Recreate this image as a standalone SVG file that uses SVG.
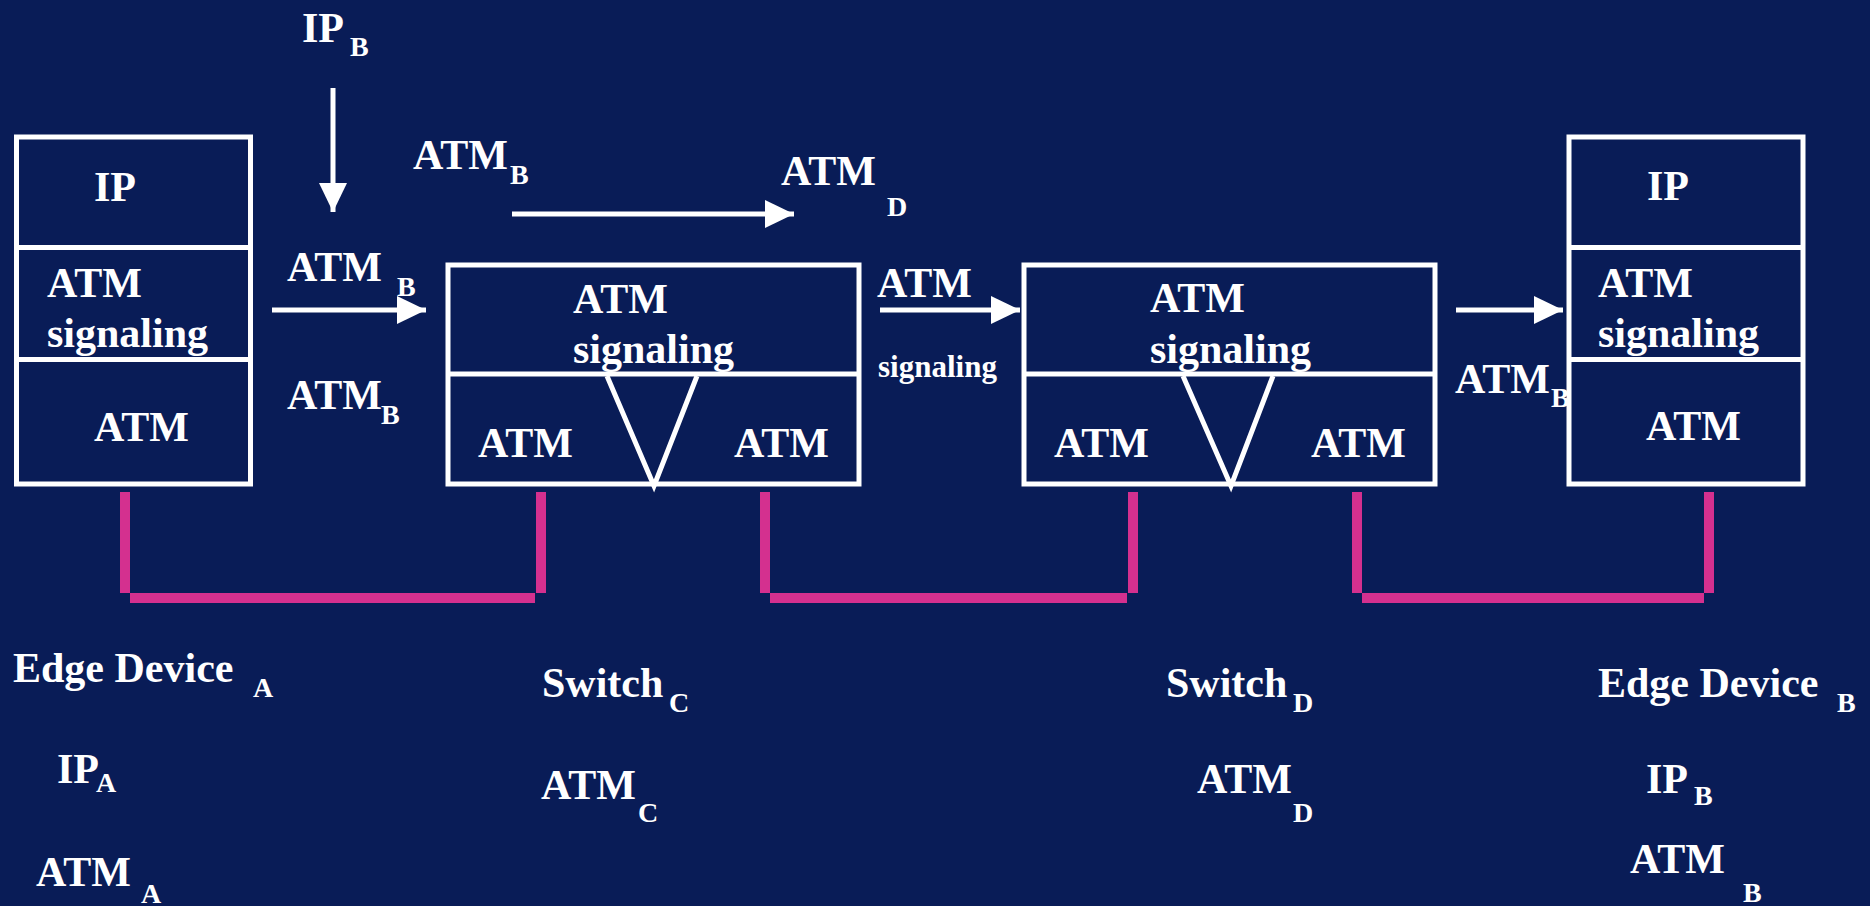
<svg xmlns="http://www.w3.org/2000/svg" width="1870" height="906" viewBox="0 0 1870 906">
<defs>
<marker id="ah" markerUnits="userSpaceOnUse" markerWidth="29" markerHeight="28" refX="29" refY="14" orient="auto">
<path d="M0,0 L29,14 L0,28 z" fill="#fff"/>
</marker>
</defs>
<rect width="1870" height="906" fill="#091c57"/>

<g id="edge-a">
<g fill="none" stroke="#fff" stroke-width="5">
<rect x="16.5" y="137" width="234" height="347"/>
<line x1="16.5" y1="247.5" x2="250.5" y2="247.5"/>
<line x1="16.5" y1="359.5" x2="250.5" y2="359.5"/>
</g>
<g font-family="Liberation Serif" font-weight="bold" font-size="42" fill="#fff">
<text x="94" y="201">IP</text>
<text x="47" y="297">ATM</text>
<text x="47" y="347">signaling</text>
<text x="94" y="441">ATM</text>
</g>
</g>

<g id="switch-c">
<g fill="none" stroke="#fff" stroke-width="5">
<rect x="448" y="265" width="411" height="219"/>
<line x1="448" y1="374" x2="859" y2="374"/>
<polyline points="607,376 654,486 697,376"/>
</g>
<g font-family="Liberation Serif" font-weight="bold" font-size="42" fill="#fff">
<text x="573" y="313">ATM</text>
<text x="573" y="363">signaling</text>
<text x="478" y="457">ATM</text>
<text x="734" y="457">ATM</text>
</g>
</g>

<g id="switch-d">
<g fill="none" stroke="#fff" stroke-width="5">
<rect x="1024" y="265" width="411" height="219"/>
<line x1="1024" y1="374" x2="1435" y2="374"/>
<polyline points="1183,376 1231,486 1273,376"/>
</g>
<g font-family="Liberation Serif" font-weight="bold" font-size="42" fill="#fff">
<text x="1150" y="312">ATM</text>
<text x="1150" y="363">signaling</text>
<text x="1054" y="457">ATM</text>
<text x="1311" y="457">ATM</text>
</g>
</g>

<g id="edge-b">
<g fill="none" stroke="#fff" stroke-width="5">
<rect x="1569" y="137" width="234" height="347"/>
<line x1="1569" y1="247.5" x2="1803" y2="247.5"/>
<line x1="1569" y1="359.5" x2="1803" y2="359.5"/>
</g>
<g font-family="Liberation Serif" font-weight="bold" font-size="42" fill="#fff">
<text x="1647" y="200">IP</text>
<text x="1598" y="297">ATM</text>
<text x="1598" y="347">signaling</text>
<text x="1646" y="440">ATM</text>
</g>
</g>

<g id="connectors">
<g stroke="#fff" stroke-width="5" fill="none" marker-end="url(#ah)">
<line x1="333" y1="88" x2="333" y2="212"/>
<line x1="512" y1="214" x2="794" y2="214"/>
<line x1="272" y1="310" x2="426" y2="310"/>
<line x1="880" y1="310" x2="1020" y2="310"/>
<line x1="1456" y1="310" x2="1563" y2="310"/>
</g>
<g fill="#d4308f">
<g id="link-a-c">
<rect x="120" y="492" width="10" height="101"/>
<rect x="130" y="593" width="405" height="10"/>
<rect x="536" y="492" width="10" height="101"/>
</g>
<g id="link-c-d">
<rect x="760" y="492" width="10" height="101"/>
<rect x="770" y="593" width="357" height="10"/>
<rect x="1128" y="492" width="10" height="101"/>
</g>
<g id="link-d-b">
<rect x="1352" y="492" width="10" height="101"/>
<rect x="1362" y="593" width="342" height="10"/>
<rect x="1704" y="492" width="10" height="101"/>
</g>
</g>
</g>

<g id="labels" font-family="Liberation Serif" font-weight="bold" font-size="42" fill="#fff">
<text x="302" y="42">IP</text><text font-size="28" x="350" y="56">B</text>
<text x="413" y="169">ATM</text><text font-size="28" x="510" y="184">B</text>
<text x="781" y="185">ATM</text><text font-size="28" x="887" y="216">D</text>
<text x="287" y="281">ATM</text><text font-size="28" x="397" y="296">B</text>
<text x="287" y="409">ATM</text><text font-size="28" x="381" y="424">B</text>
<text x="877" y="297">ATM</text>
<text font-size="31" x="878" y="377">signaling</text>
<text x="1455" y="393">ATM</text><text font-size="28" x="1551" y="407">B</text>

<text x="13" y="682">Edge Device</text><text font-size="28" x="253" y="697">A</text>
<text x="57" y="783">IP</text><text font-size="28" x="96" y="792">A</text>
<text x="36" y="886">ATM</text><text font-size="28" x="141" y="903">A</text>

<text x="542" y="697">Switch</text><text font-size="28" x="669" y="712">C</text>
<text x="541" y="799">ATM</text><text font-size="28" x="638" y="822">C</text>

<text x="1166" y="697">Switch</text><text font-size="28" x="1293" y="712">D</text>
<text x="1197" y="793">ATM</text><text font-size="28" x="1293" y="822">D</text>

<text x="1598" y="697">Edge Device</text><text font-size="28" x="1837" y="712">B</text>
<text x="1646" y="793">IP</text><text font-size="28" x="1694" y="805">B</text>
<text x="1630" y="873">ATM</text><text font-size="28" x="1743" y="902">B</text>
</g>
</svg>
